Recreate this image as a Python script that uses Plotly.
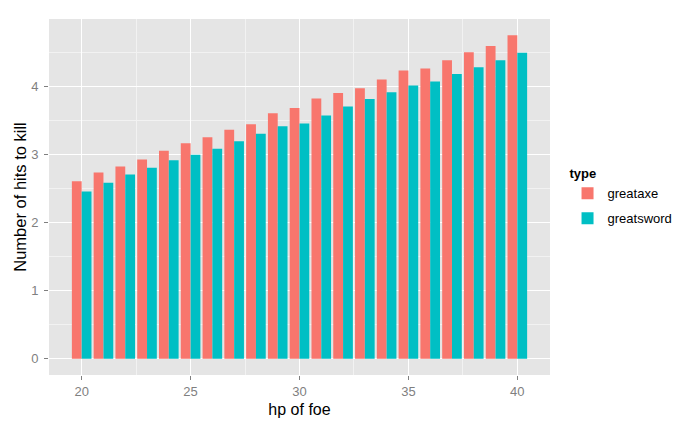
import plotly.graph_objects as go

hp = list(range(20, 41))
greataxe = [2.61, 2.74, 2.83, 2.93, 3.06, 3.17, 3.26, 3.37, 3.45, 3.61, 3.69,
            3.83, 3.91, 3.98, 4.11, 4.24, 4.27, 4.39, 4.51, 4.60, 4.76]
greatsword = [2.46, 2.59, 2.71, 2.81, 2.92, 3.00, 3.09, 3.20, 3.31, 3.42, 3.46,
              3.58, 3.71, 3.82, 3.92, 4.02, 4.08, 4.19, 4.29, 4.39, 4.50]
series = {"greataxe": greataxe, "greatsword": greatsword}
colors = {"greataxe": "#F8766D", "greatsword": "#00BFC4"}

FONT = "Liberation Sans, Arial, sans-serif"

fig = go.Figure()
for name, vals in series.items():
    fig.add_trace(go.Bar(x=hp, y=vals, name=name, marker_color=colors[name],
                         marker_line_width=0, legendgroup=name))

ymax = max(max(v) for v in series.values())
fig.update_layout(
    width=700, height=429,
    margin=dict(l=41, r=158, t=11, b=62, autoexpand=False),
    paper_bgcolor="white",
    plot_bgcolor="#E5E5E5",
    barmode="group", bargap=0.1, bargroupgap=0,
    font=dict(family=FONT, size=13, color="black"),
    legend=dict(
        title=dict(text="<b>type</b>", font=dict(size=13, color="black")),
        x=1.035, xanchor="left", y=0.6, yanchor="top",
        font=dict(size=13, color="black"),
        bgcolor="white",
        itemwidth=30,
        tracegroupgap=5,
    ),
)
fig.update_xaxes(
    automargin=False,
    range=[18.5, 41.5], tick0=20, dtick=5,
    showgrid=True, gridcolor="white", gridwidth=1.2,
    minor=dict(tick0=22.5, dtick=5, showgrid=True, gridcolor="#F2F2F2", gridwidth=0.7, ticks=""),
    zeroline=False, showline=False,
    ticks="outside", ticklen=4, tickcolor="#7F7F7F", tickwidth=1,
    tickfont=dict(size=13, color="#7F7F7F"),
    title=dict(text="hp of foe", font=dict(size=16, color="black"), standoff=6),
)
fig.update_yaxes(
    automargin=False,
    range=[-0.05 * ymax, 1.05 * ymax], tick0=0, dtick=1,
    showgrid=True, gridcolor="white", gridwidth=1.2,
    minor=dict(tick0=0.5, dtick=1, showgrid=True, gridcolor="#F2F2F2", gridwidth=0.7, ticks=""),
    zeroline=False, showline=False,
    ticks="outside", ticklen=4, tickcolor="#7F7F7F", tickwidth=1,
    tickfont=dict(size=13, color="#7F7F7F"),
    ticklabelstandoff=3,
    title=dict(text="Number of hits to kill", font=dict(size=16.5, color="black"), standoff=0),
)

fig.write_html("out.html")
